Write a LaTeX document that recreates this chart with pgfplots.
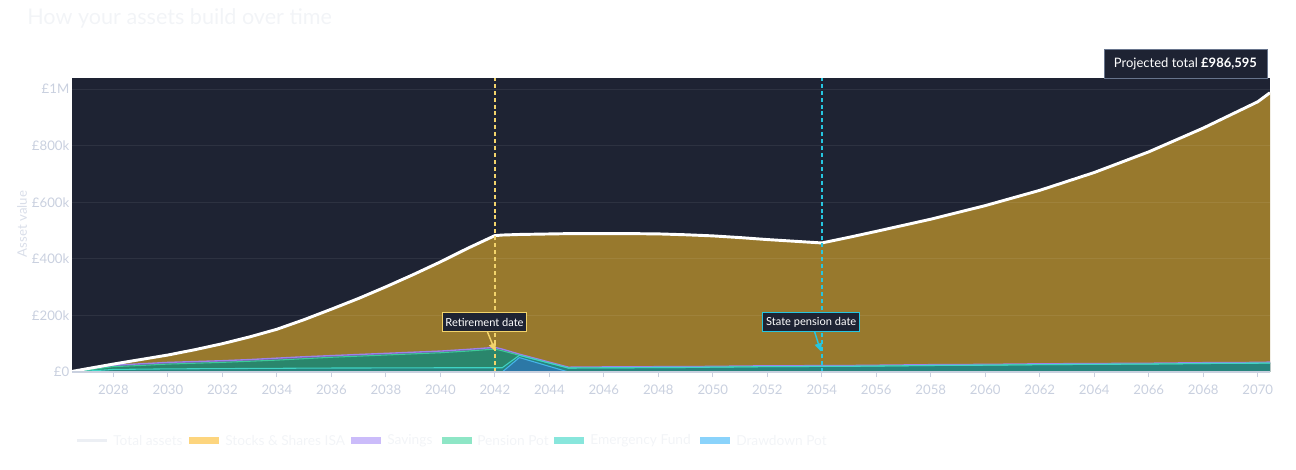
\documentclass[border=0pt]{standalone}
\usepackage{fontspec}
\setmainfont{Lato}
\usepackage{pgfplots}
\usepackage{pgfplotstable}
\pgfplotsset{compat=1.18}
\usetikzlibrary{arrows.meta}

\definecolor{bg}{HTML}{1E2333}
\definecolor{axtext}{HTML}{C9D0DF}
\definecolor{faint}{HTML}{F2F4F7}
\definecolor{gold}{HTML}{98792D}
\definecolor{savfill}{HTML}{6A58A0}
\definecolor{penfill}{HTML}{2A866C}
\definecolor{emfill}{HTML}{27847D}
\definecolor{ddfill}{HTML}{2C78A6}
\definecolor{savline}{HTML}{9D82E8}
\definecolor{penline}{HTML}{3CCB98}
\definecolor{emline}{HTML}{3FD3C4}
\definecolor{ddline}{HTML}{45B4EA}
\definecolor{yel}{HTML}{F2D36B}
\definecolor{cyan}{HTML}{26C6E0}
\definecolor{boxborder}{HTML}{67748C}

% values in thousands of pounds: top edge of each layer
\pgfplotstableread{
x       T    S   P   E
2026.48 2    1   1   0.5
2027    11   8   6   3
2028    28   24  19  9
2029    44   29  23  10
2030    60   34  28  11
2031    79   37  31  11.5
2032    100  40  34  12
2033    124  44  38  12.5
2034    151  49  42  13
2035    185  54  47  13.5
2036    222  58  52  14
2037    260  62  56  14
2038    301  66  60  14.5
2039    344  70  64  14.5
2040    389  74  68  15
2041    437  80  74  15
2042    482  87  81  15
2042.27 484  81  75  15
2042.9  486  63  59  59
2044.7  489  17  14  14
2046    489  18  15  15
2047    489  18  15  15
2048    488  19  16  16
2049    485  19  16  16
2050    481  20  17  17
2051    475  21  18  18
2052    468  22  19  19
2053    462  22  19  19
2054    456  23  20  20
2055    476  23  20  20
2056    497  24  21  21
2058    540  26  23  23
2060    588  27  24  24
2062    642  29  26  26
2064    705  30  27  27
2066    778  31  28  28
2068    862  33  30  30
2070    955  34  31  31
2070.45 987  35  31.5 31.5
}\assets

\pgfplotstableread{
x       D
2042.27 0
2042.9  51
2044.7  0
}\drawdown

\begin{document}
\begin{tikzpicture}[x=1pt,y=1pt]
\path[use as bounding box] (0,0) rectangle (972,352.5);

\node[anchor=base west, inner sep=0, font=\fontsize{16.2}{19}\selectfont, text=faint]
  at (20.25,333.75) {How your assets build over time};

\begin{axis}[
  at={(54pt,73.5pt)}, anchor=south west,
  scale only axis, width=898.5pt, height=220.5pt,
  xmin=2026.48, xmax=2070.45, ymin=0, ymax=1039,
  axis background/.style={fill=bg},
  axis on top,
  axis x line*=bottom, axis y line*=left,
  x axis line style={draw=axtext, line width=0.9pt},
  y axis line style={draw=none},
  xtick={2028,2030,...,2070},
  ytick={0,200,...,1000},
  yticklabels={£0,£200k,£400k,£600k,£800k,£1M},
  ymajorgrids,
  grid style={draw=white, draw opacity=0.07, line width=0.75pt},
  tick align=outside,
  major tick length=4pt,
  xtick style={draw=axtext, line width=0.75pt},
  ytick style={draw=none},
  ticklabel style={font=\fontsize{9.9}{11}\selectfont, text=axtext},
  yticklabel style={xshift=5.5pt},
  xticklabel style={yshift=-2.5pt, /pgf/number format/1000 sep={}},
  /pgf/number format/assume math mode=true,
]
\addplot[draw=none, fill=gold] table[x=x, y=T] {\assets} \closedcycle;
\addplot[draw=none, fill=savfill] table[x=x, y=S] {\assets} \closedcycle;
\addplot[draw=none, fill=penfill] table[x=x, y=P] {\assets} \closedcycle;
\addplot[draw=none, fill=emfill] table[x=x, y=E] {\assets} \closedcycle;
\addplot[draw=none, fill=ddfill] table[x=x, y=D] {\drawdown} \closedcycle;

\addplot[savline, line width=1pt] table[x=x, y=S] {\assets};
\addplot[penline, line width=0.8pt] table[x=x, y=P] {\assets};
\addplot[emline, line width=0.8pt] table[x=x, y=E] {\assets};
\addplot[ddline, line width=0.8pt] table[x=x, y=D] {\drawdown};
\addplot[white, line width=2.2pt, line join=round] table[x=x, y=T] {\assets};

\draw[yel, line width=1.3pt, dash pattern=on 3pt off 2.2pt] (axis cs:2042,0) -- (axis cs:2042,1039);
\draw[cyan, line width=1.3pt, dash pattern=on 3pt off 2.2pt] (axis cs:2054,0) -- (axis cs:2054,1039);

\coordinate (retbox) at (axis cs:2041.62,176);
\coordinate (retstart) at (axis cs:2041.73,141);
\coordinate (rettip) at (axis cs:2042.02,73);
\coordinate (spbox) at (axis cs:2053.61,176);
\coordinate (spstart) at (axis cs:2053.74,141);
\coordinate (sptip) at (axis cs:2053.96,73);
\end{axis}

\draw[yel, line width=1.1pt, -{Triangle[length=6pt,width=5.5pt]}] (retstart) -- (rettip);
\node[draw=yel, fill=bg, text=white, line width=0.8pt, inner sep=0,
  minimum width=63pt, minimum height=14.25pt, font=\fontsize{8.3}{9.5}\selectfont]
  at (retbox) {Retirement date};
\draw[cyan, line width=1.1pt, -{Triangle[length=6pt,width=5.5pt]}] (spstart) -- (sptip);
\node[draw=cyan, fill=bg, text=white, line width=0.8pt, inner sep=0,
  minimum width=72.75pt, minimum height=14.25pt, font=\fontsize{8.3}{9.5}\selectfont]
  at (spbox) {State pension date};

\node[draw=boxborder, fill=bg, text=white, line width=0.6pt, inner sep=0,
  minimum width=122.25pt, minimum height=21.75pt, font=\fontsize{9.75}{11}\selectfont]
  at (889.1,304.9) {Projected total \textbf{£986,595}};

\node[rotate=90, text=axtext!70!white, font=\fontsize{9.9}{11}\selectfont] at (16.5,184.5) {Asset value};

% legend
\begin{scope}[font=\fontsize{10.3}{12}\selectfont]
\draw[faint!85!axtext, line width=2.2pt] (57.75,22) -- (80.25,22);
\node[anchor=west, inner sep=0, text=faint] at (84.75,22) {Total assets};
\fill[fill={rgb,255:red,253;green,213;blue,126}] (141.75,19.4) rectangle (164.25,24.6);
\node[anchor=west, inner sep=0, text=faint] at (168.75,22) {Stocks \& Shares ISA};
\fill[fill={rgb,255:red,203;green,188;blue,250}] (263.25,19.4) rectangle (285.75,24.6);
\node[anchor=west, inner sep=0, text=faint] at (290.25,22) {Savings};
\fill[fill={rgb,255:red,142;green,230;blue,198}] (331.5,19.4) rectangle (354,24.6);
\node[anchor=west, inner sep=0, text=faint] at (357.75,22) {Pension Pot};
\fill[fill={rgb,255:red,136;green,230;blue,220}] (415.5,19.4) rectangle (438,24.6);
\node[anchor=west, inner sep=0, text=faint] at (442.5,22) {Emergency Fund};
\fill[fill={rgb,255:red,138;green,211;blue,251}] (525,19.4) rectangle (547.5,24.6);
\node[anchor=west, inner sep=0, text=faint] at (552,22) {Drawdown Pot};
\end{scope}
\end{tikzpicture}
\end{document}
